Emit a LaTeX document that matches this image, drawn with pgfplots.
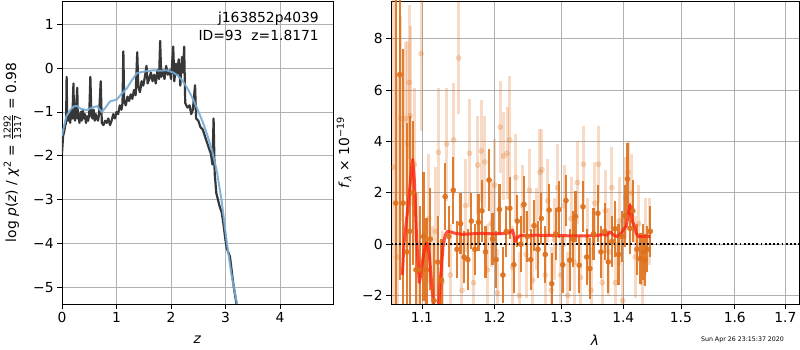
\documentclass[border=0pt]{standalone}
\usepackage{pgfplots}
\pgfplotsset{compat=1.18}
\usepackage{fontspec}
\setmainfont{DejaVu Sans}
\definecolor{darkline}{RGB}{55,55,55}
\definecolor{bluel}{RGB}{120,172,214}
\definecolor{orng}{RGB}{222,112,28}
\definecolor{gridc}{RGB}{176,176,176}
\definecolor{redl}{RGB}{255,35,15}
\begin{document}
\begin{tikzpicture}[x=1bp,y=1bp]
\useasboundingbox (0bp,0bp) rectangle (800bp,350bp);
\pgfplotsset{
  every axis/.append style={
    scale only axis, anchor=south west,
    tick align=outside, major tick length=4.9bp,
    every tick/.style={black, line width=0.8pt},
    axis line style={line width=0.8pt},
    grid=major, grid style={gridc, line width=0.8pt},
    tick label style={font=\fontsize{13.9}{16}\selectfont},
    label style={font=\fontsize{13.9}{16}\selectfont},
    xtick pos=left, ytick pos=left,
    minor tick num=0,
  }
}
% ---------------- left panel ----------------
\begin{axis}[
  at={(62bp,46bp)}, width=271bp, height=303bp,
  xmin=0, xmax=4.97, ymin=-5.38, ymax=1.53,
  xtick={0,1,2,3,4}, xticklabels={0,1,2,3,4},
  ytick={-5,-4,-3,-2,-1,0,1}, yticklabels={−5,−4,−3,−2,−1,0,1},
  xlabel={\textit{z}},
  xlabel style={at={(axis description cs:0.5,-0.119)}, anchor=center},
  ylabel={log \textit{p}(\textit{z}) / \textit{χ}\textsuperscript{2} = $\frac{\hbox{\fontsize{9.5}{10}\selectfont 1292}}{\hbox{\fontsize{9.5}{10}\selectfont 1317}}$ = 0.98},
  ylabel style={at={(axis description cs:-0.183,0.5)}, anchor=center},
]
\addplot[darkline, line width=2.2bp, line join=round] coordinates {
(0.00,-1.95) (0.02,-1.55) (0.04,-1.45) (0.06,-1.30) (0.075,-1.25) (0.085,-0.20) (0.095,-1.15)
(0.11,-1.20) (0.13,-1.05) (0.15,-1.25) (0.17,-0.95) (0.19,-1.15) (0.21,-0.35) (0.22,-1.10)
(0.24,-1.20) (0.26,-0.85) (0.28,-0.45) (0.29,-1.15) (0.30,-1.05) (0.32,-1.25) (0.34,-1.00)
(0.36,-1.20) (0.38,-0.95) (0.40,-1.15) (0.42,-1.05) (0.44,-1.25) (0.46,-1.10) (0.48,-1.20)
(0.50,-1.05) (0.52,-0.20) (0.54,-1.10) (0.56,-1.15) (0.58,-0.95) (0.60,-1.20) (0.62,-1.05)
(0.64,-1.15) (0.66,-1.20) (0.68,-1.05) (0.71,-0.30) (0.73,-1.25) (0.76,-1.30) (0.79,-1.20)
(0.82,-1.25) (0.85,-1.15) (0.88,-1.30) (0.91,-1.20) (0.94,-1.05) (0.97,-1.15) (1.00,-1.00)
(1.03,-1.05) (1.06,-0.85) (1.09,-0.95) (1.11,-0.80) (1.125,0.38) (1.14,-0.75) (1.17,-0.85)
(1.20,-0.65) (1.23,-0.75) (1.26,-0.60) (1.29,-0.70) (1.32,-0.50) (1.35,-0.62) (1.38,0.36)
(1.40,-0.45) (1.43,-0.55) (1.46,-0.30) (1.49,-0.40) (1.52,-0.20) (1.55,0.05) (1.57,-0.35)
(1.60,-0.25) (1.63,-0.10) (1.66,-0.30) (1.69,-0.15) (1.72,-0.35) (1.75,-0.05) (1.78,-0.25)
(1.80,0.62) (1.82,-0.20) (1.85,-0.05) (1.88,-0.25) (1.91,0.05) (1.94,-0.15) (1.97,-0.05)
(2.00,-0.25) (2.03,0.30) (2.04,0.49) (2.06,-0.30) (2.09,0.10) (2.11,-0.15) (2.14,0.20)
(2.17,-0.40) (2.20,0.25) (2.22,-0.10) (2.24,0.49) (2.26,-0.80) (2.30,-0.90) (2.34,-0.85)
(2.37,-1.05) (2.40,-0.95) (2.44,-0.39) (2.46,-1.15) (2.50,-1.20) (2.54,-1.35) (2.58,-1.40)
(2.62,-1.55) (2.66,-1.70) (2.70,-1.85) (2.73,-1.95) (2.76,-2.20) (2.78,-1.15) (2.80,-2.40)
(2.83,-2.85) (2.86,-3.00) (2.89,-3.15) (2.93,-3.30) (2.96,-3.55) (2.99,-3.85) (3.02,-4.10)
(3.05,-4.20) (3.08,-4.30) (3.11,-4.60) (3.14,-4.90) (3.17,-5.15) (3.21,-5.45)
};
\addplot[bluel, line width=2bp, opacity=0.9] coordinates {
(0.00,-1.55) (0.02,-1.42) (0.08,-1.10) (0.15,-0.96) (0.21,-0.88) (0.27,-0.86) (0.35,-0.93)
(0.45,-0.96) (0.55,-0.90) (0.64,-0.87) (0.73,-1.00) (0.80,-0.90) (0.88,-0.76) (1.00,-0.72)
(1.10,-0.58) (1.19,-0.46) (1.28,-0.28) (1.37,-0.12) (1.46,-0.09) (1.55,-0.07) (1.68,-0.05)
(1.80,-0.06) (1.92,-0.05) (2.04,-0.10) (2.12,-0.17) (2.20,-0.27) (2.29,-0.44) (2.38,-0.65)
(2.48,-0.92) (2.59,-1.26) (2.67,-1.55) (2.75,-1.87) (2.84,-2.35) (2.93,-3.05) (3.02,-3.95)
(3.10,-4.65) (3.22,-5.45)
};
\end{axis}
\node[anchor=east, inner sep=0, font=\fontsize{13.9}{16}\selectfont] at (319bp,331bp) {j163852p4039};
\node[anchor=east, inner sep=0, font=\fontsize{13.9}{16}\selectfont] at (319bp,315bp) {ID=93\hspace{9bp}z=1.8171};
% ---------------- right panel ----------------
\begin{axis}[
  at={(391bp,46bp)}, width=408bp, height=303bp,
  x coord trafo/.code={\pgfmathparse{log10(#1)}},
  x coord inv trafo/.code={\pgfmathparse{10^(#1)}},
  xmin=1.06, xmax=1.728, ymin=-2.33, ymax=9.47,
  xtick={1.1,1.2,1.3,1.4,1.5,1.6,1.7}, xticklabels={1.1,1.2,1.3,1.4,1.5,1.6,1.7},
  ytick={-2,0,2,4,6,8}, yticklabels={−2,0,2,4,6,8},
  xlabel={\textit{λ}},
  xlabel style={at={(axis description cs:0.5,-0.119)}, anchor=center},
  ylabel={\textit{f}\textsubscript{\textit{λ}} × 10\textsuperscript{−19}},
  ylabel style={at={(axis description cs:-0.115,0.5)}, anchor=center},
]
% light (faint) points
\addplot[only marks, mark=*, mark size=2.6bp, orng,
  mark options={fill=orng, draw=none, opacity=0.25},
  error bars/.cd, y dir=both, y explicit, error mark=none,
  error bar style={line width=3bp, orng, opacity=0.25}]
table[x=x, y=y, y error=e] {
x y e
1.063 3.0 8.0
1.068 -0.5 7.0
1.0725 4.9 4.0
1.0785 4.88 3.0
1.0815 3.9 4.0
1.0833 6.3 3.0
1.0845 5.0 3.5
1.090 3.1 3.0
1.094 -1.0 3.0
1.0988 7.42 3.0
1.104 -2.0 3.0
1.109 1.0 2.5
1.114 -1.8 2.5
1.118 0.5 2.5
1.122 3.58 2.5
1.127 -1.5 2.0
1.133 3.9 2.2
1.138 -1.2 2.0
1.1425 4.06 2.2
1.1495 7.25 2.2
1.154 -1.8 2.0
1.159 1.5 1.8
1.1645 3.54 2.1
1.170 -1.5 1.8
1.176 3.08 1.9
1.181 3.63 2.0
1.186 3.2 1.8
1.190 -1.0 1.8
1.195 0.8 1.7
1.200 2.3 1.8
1.204 -1.9 1.7
1.208 4.56 1.8
1.213 3.43 1.7
1.218 3.54 1.8
1.222 4.06 2.5
1.226 -0.9 1.6
1.231 2.6 1.7
1.236 -2.0 1.7
1.241 1.5 1.6
1.246 -0.4 1.7
1.251 2.1 1.6
1.256 -1.4 1.7
1.262 0.6 1.6
1.267 2.8 1.7
1.270 2.9 1.6
1.275 -1.2 1.7
1.279 1.7 1.6
1.284 -1.8 1.7
1.289 0.2 1.6
1.294 2.2 1.7
1.299 -1.2 1.6
1.304 1.5 1.6
1.310 -2.0 1.7
1.315 1.0 1.6
1.320 -0.7 1.7
1.325 2.4 1.6
1.330 -1.3 1.7
1.335 3.11 1.5
1.341 0.2 1.6
1.347 -1.8 1.7
1.353 1.6 1.6
1.359 3.11 1.5
1.365 -1.5 1.6
1.370 1.3 1.6
1.376 -0.3 1.7
1.381 2.2 1.6
1.387 -1.5 1.6
1.393 0.9 1.7
1.399 -2.2 1.6
1.404 1.8 1.6
1.408 2.8 1.2
1.414 2.0 1.5
1.420 -0.5 1.6
1.426 0.8 1.5
1.432 -1.5 1.6
1.438 0.3 1.5
1.444 0.5 1.3
};
% dark points
\addplot[only marks, mark=*, mark size=2.6bp, orng,
  mark options={fill=orng, draw=none, opacity=0.9},
  error bars/.cd, y dir=both, y explicit, error mark=none,
  error bar style={line width=2.2bp, orng, opacity=0.9}]
table[x=x, y=y, y error=e] {
x y e
1.066 1.6 9.0
1.071 6.6 8.0
1.0755 1.6 6.0
1.080 -0.3 5.0
1.084 0.5 4.5
1.088 2.0 2.8
1.092 -1.0 3.0
1.097 -1.0 2.5
1.102 0.3 2.5
1.106 -1.0 2.0
1.111 0.2 2.0
1.116 -2.2 2.2
1.121 -0.7 1.8
1.126 -1.4 1.6
1.131 1.85 1.3
1.136 0.3 1.2
1.142 2.1 1.3
1.147 -0.2 1.1
1.152 0.8 1.2
1.157 -0.5 1.0
1.162 -0.6 1.2
1.167 0.9 1.1
1.172 -0.2 1.0
1.177 0.85 1.1
1.182 1.3 1.2
1.187 -0.3 1.0
1.192 2.5 1.2
1.197 0.2 1.0
1.202 -0.6 1.1
1.207 1.35 1.0
1.212 -1.2 1.1
1.217 0.5 1.0
1.222 1.4 1.2
1.228 -0.8 1.1
1.233 0.9 1.0
1.238 0.0 1.1
1.243 1.55 1.1
1.248 0.3 1.0
1.253 -0.6 1.2
1.258 0.72 1.0
1.264 -0.2 1.1
1.269 1.0 1.0
1.275 -0.4 1.1
1.281 1.33 1.0
1.285 -1.54 1.2
1.291 0.4 1.0
1.296 1.35 1.1
1.302 -0.8 1.1
1.307 1.7 1.0
1.313 -0.62 1.2
1.318 0.2 1.1
1.322 1.08 1.0
1.328 -0.82 1.1
1.334 1.46 1.0
1.340 -0.5 1.1
1.345 -0.95 1.2
1.351 0.4 1.0
1.358 1.2 1.1
1.363 -0.3 1.0
1.369 0.5 1.1
1.375 -0.69 1.2
1.381 0.1 1.0
1.386 0.6 1.1
1.392 -0.4 1.2
1.398 0.3 1.0
1.403 1.1 1.2
1.407 2.54 1.4
1.411 0.62 1.0
1.416 1.3 1.2
1.423 -0.2 1.0
1.429 -0.56 1.0
1.434 -0.3 1.1
1.437 -0.62 1.0
1.441 -0.2 0.9
1.446 0.5 1.0
};
% model
\addplot[redl, line width=3bp, opacity=0.8, line join=round] coordinates {
(1.0745,-1.2) (1.0765,0.0) (1.079,0.7) (1.083,1.8) (1.0865,3.0) (1.088,3.3) (1.090,2.5)
(1.093,0.2) (1.0965,-1.5) (1.099,-1.1) (1.102,-0.4) (1.105,0.0) (1.107,0.05) (1.110,-0.5)
(1.113,-1.6) (1.116,-2.6) (1.119,-3.0) (1.122,-2.5) (1.125,-1.2) (1.128,-0.1) (1.131,0.35)
(1.134,0.5) (1.138,0.48) (1.145,0.42) (1.155,0.38) (1.165,0.40) (1.18,0.42) (1.20,0.40)
(1.215,0.42) (1.222,0.45) (1.226,0.55) (1.2285,0.3) (1.230,0.1) (1.233,0.25) (1.237,0.33)
(1.26,0.35) (1.30,0.33) (1.34,0.32) (1.36,0.35) (1.366,0.38) (1.372,0.35) (1.378,0.48)
(1.384,0.35) (1.390,0.30) (1.396,0.40) (1.401,0.60) (1.405,0.70) (1.408,1.1) (1.411,1.5)
(1.413,1.45) (1.415,0.9) (1.417,0.8) (1.419,0.7) (1.422,0.4) (1.426,0.3) (1.446,0.3)
};
\addplot[black, line width=2bp, dash pattern=on 1.8bp off 2.4bp] coordinates {(1.06,0) (1.728,0)};
\end{axis}
\node[font=\fontsize{6.3}{7}\selectfont] at (742.5bp,10bp) {Sun Apr 26 23:15:37 2020};
\end{tikzpicture}
\end{document}
